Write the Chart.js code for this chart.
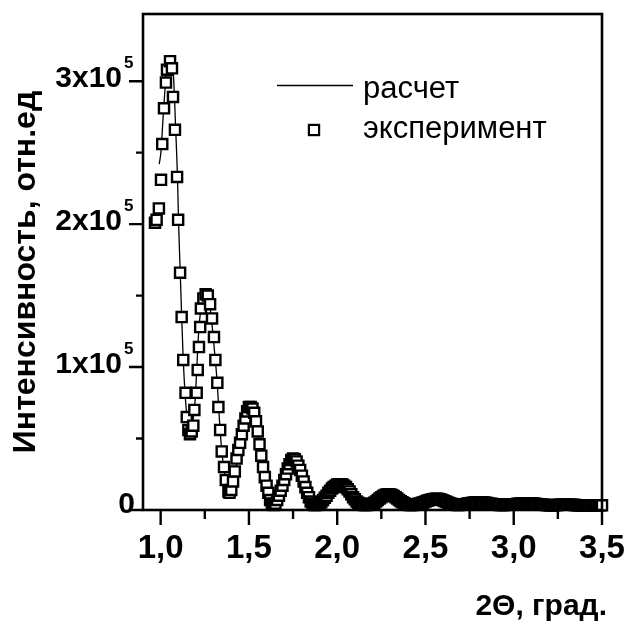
<!DOCTYPE html>
<html>
<head>
<meta charset="utf-8">
<script src="https://cdn.jsdelivr.net/npm/chart.js@4.4.0/dist/chart.umd.min.js"></script>
<style>
html, body { margin: 0; padding: 0; background: #fff; }
canvas { display: block; }
</style>
</head>
<body>
<canvas id="xrrChart" width="630" height="625"></canvas>
<script>
// Интенсивность в единицах 10^5
const seriesNames = ['расчет', 'эксперимент'];

// эксперимент: 2Θ (град.)
const expAngle = [
    0.968, 0.977, 0.990, 1.002, 1.009, 1.019, 1.030, 1.036, 1.053, 1.064,
    1.070, 1.081, 1.093, 1.099, 1.110, 1.119, 1.128, 1.141, 1.148, 1.157,
    1.166, 1.176, 1.185, 1.191, 1.204, 1.210, 1.217, 1.224, 1.228, 1.242,
    1.255, 1.267, 1.280, 1.291, 1.302, 1.310, 1.321, 1.327, 1.337, 1.346,
    1.359, 1.369, 1.384,
    1.39, 1.40, 1.41, 1.42, 1.43, 1.44, 1.45, 1.46, 1.47, 1.48,
    1.49, 1.50, 1.51, 1.52, 1.53, 1.54, 1.55, 1.56, 1.57, 1.58,
    1.59, 1.60, 1.61, 1.62, 1.63, 1.64, 1.65, 1.66, 1.67, 1.68,
    1.69, 1.70, 1.71, 1.72, 1.73, 1.74, 1.75, 1.76, 1.77, 1.78,
    1.79, 1.80, 1.81, 1.82, 1.83, 1.84, 1.85, 1.86, 1.87, 1.88,
    1.89, 1.90, 1.91, 1.92, 1.93, 1.94, 1.95, 1.96, 1.97, 1.98,
    1.99, 2.00, 2.01, 2.02, 2.03, 2.04, 2.05, 2.06, 2.07, 2.08,
    2.09, 2.10, 2.11, 2.12, 2.13, 2.14, 2.15, 2.16, 2.17, 2.18,
    2.19, 2.20, 2.21, 2.22, 2.23, 2.24, 2.25, 2.26, 2.27, 2.28,
    2.29, 2.30, 2.31, 2.32, 2.33, 2.34, 2.35, 2.36, 2.37, 2.38,
    2.39, 2.40, 2.41, 2.42, 2.43, 2.44, 2.45, 2.46, 2.47, 2.48,
    2.49, 2.50, 2.51, 2.52, 2.53, 2.54, 2.55, 2.56, 2.57, 2.58,
    2.59, 2.60, 2.61, 2.62, 2.63, 2.64, 2.65, 2.66, 2.67, 2.68,
    2.69, 2.70, 2.71, 2.72, 2.73, 2.74, 2.75, 2.76, 2.77, 2.78,
    2.79, 2.80, 2.81, 2.82, 2.83, 2.84, 2.85, 2.86, 2.87, 2.88,
    2.89, 2.90, 2.91, 2.92, 2.93, 2.94, 2.95, 2.96, 2.97, 2.98,
    2.99, 3.00, 3.01, 3.02, 3.03, 3.04, 3.05, 3.06, 3.07, 3.08,
    3.09, 3.10, 3.11, 3.12, 3.13, 3.14, 3.15, 3.16, 3.17, 3.18,
    3.19, 3.20, 3.21, 3.22, 3.23, 3.24, 3.25, 3.26, 3.27, 3.28,
    3.29, 3.30, 3.31, 3.32, 3.33, 3.34, 3.35, 3.36, 3.37, 3.38,
    3.39, 3.40, 3.41, 3.42, 3.43, 3.44, 3.45, 3.46, 3.47, 3.48,
    3.49, 3.50
];
const expIntensity = [
    2.01, 2.03, 2.11, 2.31, 2.56, 2.81, 2.99, 3.08, 3.14, 3.09,
    2.89, 2.66, 2.33, 2.03, 1.66, 1.35, 1.05, 0.82, 0.65, 0.56,
    0.53, 0.55, 0.59, 0.70, 0.82, 0.98, 1.14, 1.28, 1.41, 1.48,
    1.51, 1.50, 1.44, 1.34, 1.21, 1.05, 0.89, 0.72, 0.56, 0.41,
    0.30, 0.21, 0.13,
    0.12, 0.14, 0.20, 0.27, 0.36, 0.42, 0.47, 0.53, 0.59, 0.64,
    0.69, 0.72, 0.72, 0.71, 0.68, 0.62, 0.55, 0.46, 0.38, 0.30,
    0.23, 0.17, 0.12, 0.07, 0.045, 0.035, 0.045, 0.07, 0.10, 0.135,
    0.17, 0.21, 0.25, 0.29, 0.32, 0.35, 0.36, 0.355, 0.34, 0.31,
    0.28, 0.24, 0.20, 0.16, 0.12, 0.09, 0.06, 0.045, 0.035, 0.035,
    0.04, 0.045, 0.055, 0.07, 0.085, 0.10, 0.12, 0.135, 0.15, 0.16,
    0.17, 0.178, 0.18, 0.18, 0.178, 0.17, 0.16, 0.145, 0.13, 0.11,
    0.09, 0.075, 0.06, 0.05, 0.045, 0.04, 0.035, 0.035, 0.035, 0.037,
    0.04, 0.045, 0.05, 0.06, 0.07, 0.08, 0.09, 0.098, 0.105, 0.108,
    0.11, 0.108, 0.105, 0.098, 0.09, 0.08, 0.07, 0.062, 0.055, 0.047,
    0.04, 0.037, 0.035, 0.035, 0.035, 0.037, 0.04, 0.043, 0.046, 0.05,
    0.055, 0.06, 0.065, 0.069, 0.072, 0.075, 0.077, 0.078, 0.078, 0.075,
    0.072, 0.067, 0.062, 0.056, 0.05, 0.046, 0.042, 0.039, 0.036, 0.035,
    0.035, 0.036, 0.038, 0.04, 0.042, 0.045, 0.047, 0.049, 0.051, 0.053,
    0.054, 0.055, 0.055, 0.054, 0.053, 0.051, 0.049, 0.046, 0.044, 0.042,
    0.04, 0.038, 0.036, 0.035, 0.035, 0.035, 0.035, 0.036, 0.036, 0.037,
    0.038, 0.04, 0.041, 0.043, 0.044, 0.045, 0.046, 0.047, 0.047, 0.047,
    0.047, 0.046, 0.045, 0.043, 0.042, 0.04, 0.039, 0.037, 0.036, 0.035,
    0.035, 0.034, 0.034, 0.034, 0.034, 0.035, 0.035, 0.036, 0.036, 0.037,
    0.037, 0.037, 0.037, 0.036, 0.036, 0.035, 0.035, 0.034, 0.034, 0.034,
    0.034, 0.033, 0.033, 0.033, 0.033, 0.033, 0.033, 0.033, 0.033, 0.033,
    0.033, 0.033
];

// расчет
const calcAngle = [
    0.992, 1.002, 1.015, 1.025, 1.034, 1.045, 1.059, 1.072, 1.085, 1.096,
    1.101, 1.111, 1.119, 1.128, 1.138, 1.150, 1.163, 1.175, 1.187, 1.196,
    1.205, 1.214, 1.227, 1.241, 1.261, 1.276, 1.289, 1.308, 1.321, 1.333,
    1.346, 1.365, 1.384, 1.393, 1.42, 1.45, 1.48, 1.503, 1.53, 1.56,
    1.59, 1.62, 1.635, 1.66, 1.69, 1.72, 1.752, 1.78, 1.81, 1.84,
    1.875, 1.91, 1.95, 1.98, 2.017, 2.05, 2.09, 2.13, 2.168, 2.21,
    2.25, 2.29, 2.33, 2.37, 2.43, 2.49, 2.53, 2.565, 2.61, 2.65,
    2.678, 2.73, 2.77, 2.81, 2.87, 2.95, 3.01, 3.09, 3.17, 3.23,
    3.30, 3.40, 3.50
];
const calcIntensity = [
    2.42, 2.51, 2.77, 2.95, 3.12, 3.17, 3.13, 3.05, 2.67, 2.30,
    2.03, 1.66, 1.35, 1.05, 0.82, 0.64, 0.56, 0.58, 0.66, 0.78,
    1.00, 1.22, 1.40, 1.48, 1.51, 1.45, 1.32, 1.07, 0.88, 0.63,
    0.42, 0.23, 0.13, 0.10, 0.25, 0.46, 0.64, 0.72, 0.68, 0.46,
    0.22, 0.07, 0.04, 0.07, 0.17, 0.29, 0.36, 0.32, 0.20, 0.09,
    0.03, 0.05, 0.12, 0.16, 0.18, 0.16, 0.09, 0.04, 0.02, 0.05,
    0.09, 0.11, 0.09, 0.05, 0.02, 0.05, 0.07, 0.078, 0.06, 0.035,
    0.025, 0.035, 0.05, 0.055, 0.042, 0.03, 0.04, 0.047, 0.035, 0.032,
    0.036, 0.032, 0.03
];

// оси
const xMajorTicks = [1.0, 1.5, 2.0, 2.5, 3.0, 3.5];
const xMinorTicks = [1.25, 1.75, 2.25, 2.75, 3.25];
const yMajorTicks = [0, 1, 2, 3];
const yMinorTicks = [0.5, 1.5, 2.5];
const yTickBase = ['0', '1x10', '2x10', '3x10'];
const yTickExp = ['', '5', '5', '5'];
const xTitle = '2Θ, град.';
const yTitle = 'Интенсивность, отн.ед';

const FONT = '"Liberation Sans", Arial, sans-serif';

// рамка, засечки, подписи оси Y, заголовки осей и легенда
const decorPlugin = {
    id: 'decor',
    afterDraw(chart) {
        const ctx = chart.ctx;
        const a = chart.chartArea;
        const xs = chart.scales.x;
        const ys = chart.scales.y;
        ctx.save();
        ctx.strokeStyle = '#000';
        ctx.fillStyle = '#000';

        // рамка
        ctx.lineWidth = 2.6;
        ctx.strokeRect(a.left, a.top, a.right - a.left, a.bottom - a.top);

        // засечки
        ctx.lineWidth = 2.4;
        ctx.beginPath();
        xMajorTicks.forEach(v => {
            const p = xs.getPixelForValue(v);
            ctx.moveTo(p, a.bottom); ctx.lineTo(p, a.bottom + 15);
        });
        xMinorTicks.forEach(v => {
            const p = xs.getPixelForValue(v);
            ctx.moveTo(p, a.bottom); ctx.lineTo(p, a.bottom + 9);
        });
        yMajorTicks.forEach(v => {
            const p = ys.getPixelForValue(v);
            ctx.moveTo(a.left, p); ctx.lineTo(a.left - 14, p);
        });
        yMinorTicks.forEach(v => {
            const p = ys.getPixelForValue(v);
            ctx.moveTo(a.left, p); ctx.lineTo(a.left - 7, p);
        });
        ctx.stroke();

        // подписи оси Y (с показателем степени)
        ctx.textAlign = 'right';
        ctx.textBaseline = 'alphabetic';
        yMajorTicks.forEach((v, i) => {
            const p = ys.getPixelForValue(v);
            if (yTickExp[i]) {
                ctx.font = 'bold 17px ' + FONT;
                ctx.fillText(yTickExp[i], a.left - 9.5, p - 13);
                ctx.font = 'bold 30px ' + FONT;
                ctx.fillText(yTickBase[i], a.left - 21, p + 5.7);
            } else {
                ctx.font = 'bold 30px ' + FONT;
                ctx.fillText(yTickBase[i], a.left - 8, p + 2.7);
            }
        });

        // заголовок оси X
        ctx.font = 'bold 30px ' + FONT;
        ctx.textAlign = 'right';
        ctx.fillText(xTitle, 607, 615);

        // заголовок оси Y
        ctx.save();
        ctx.translate(35, 272);
        ctx.rotate(-Math.PI / 2);
        ctx.textAlign = 'center';
        ctx.font = 'bold 32px ' + FONT;
        ctx.fillText(yTitle, 0, 0);
        ctx.restore();

        // легенда
        ctx.lineWidth = 1.3;
        ctx.beginPath();
        ctx.moveTo(277, 85.5); ctx.lineTo(353, 85.5);
        ctx.stroke();
        ctx.lineWidth = 2.2;
        ctx.fillStyle = '#fff';
        ctx.fillRect(314 - 5.1, 130 - 5.1, 10.2, 10.2);
        ctx.strokeRect(314 - 5.1, 130 - 5.1, 10.2, 10.2);
        ctx.fillStyle = '#000';
        ctx.font = '31px ' + FONT;
        ctx.textAlign = 'left';
        ctx.fillText(seriesNames[0], 363, 98);
        ctx.fillText(seriesNames[1], 363, 138);

        ctx.restore();
    }
};

const ctx = document.getElementById('xrrChart');
new Chart(ctx, {
    type: 'scatter',
    data: {
        datasets: [
            {
                label: seriesNames[1],
                data: expAngle.map((x, i) => ({ x: x, y: expIntensity[i] })),
                showLine: false,
                pointStyle: 'rect',
                pointRadius: 7.15,
                pointBorderWidth: 2.4,
                pointBorderColor: '#000',
                pointBackgroundColor: '#fff',
                clip: false,
                order: 0
            },
            {
                type: 'line',
                label: seriesNames[0],
                data: calcAngle.map((x, i) => ({ x: x, y: calcIntensity[i] })),
                borderColor: '#000',
                borderWidth: 1.3,
                pointRadius: 0,
                fill: false,
                cubicInterpolationMode: 'monotone',
                clip: false,
                order: 1
            }
        ]
    },
    options: {
        responsive: false,
        animation: false,
        layout: { padding: { top: 14, right: 28, left: 0, bottom: 0 } },
        plugins: {
            legend: { display: false },
            tooltip: { enabled: false }
        },
        scales: {
            x: {
                type: 'linear',
                min: 0.9,
                max: 3.5,
                grid: { display: false, drawTicks: true, tickLength: 15 },
                border: { display: false },
                afterBuildTicks: (scale) => {
                    scale.ticks = xMajorTicks.map(v => ({ value: v }));
                },
                afterFit: (scale) => { scale.height = 115; },
                ticks: {
                    autoSkip: false,
                    maxRotation: 0,
                    padding: 4,
                    color: '#000',
                    font: { family: FONT, size: 33, weight: 'bold' },
                    callback: (v) => Number(v).toFixed(1).replace('.', ',')
                }
            },
            y: {
                type: 'linear',
                min: 0,
                max: 3.47,
                grid: { display: false },
                border: { display: false },
                afterBuildTicks: (scale) => {
                    scale.ticks = yMajorTicks.map(v => ({ value: v }));
                },
                afterFit: (scale) => { scale.width = 143; },
                ticks: { display: false }
            }
        }
    },
    plugins: [decorPlugin]
});
</script>
</body>
</html>
